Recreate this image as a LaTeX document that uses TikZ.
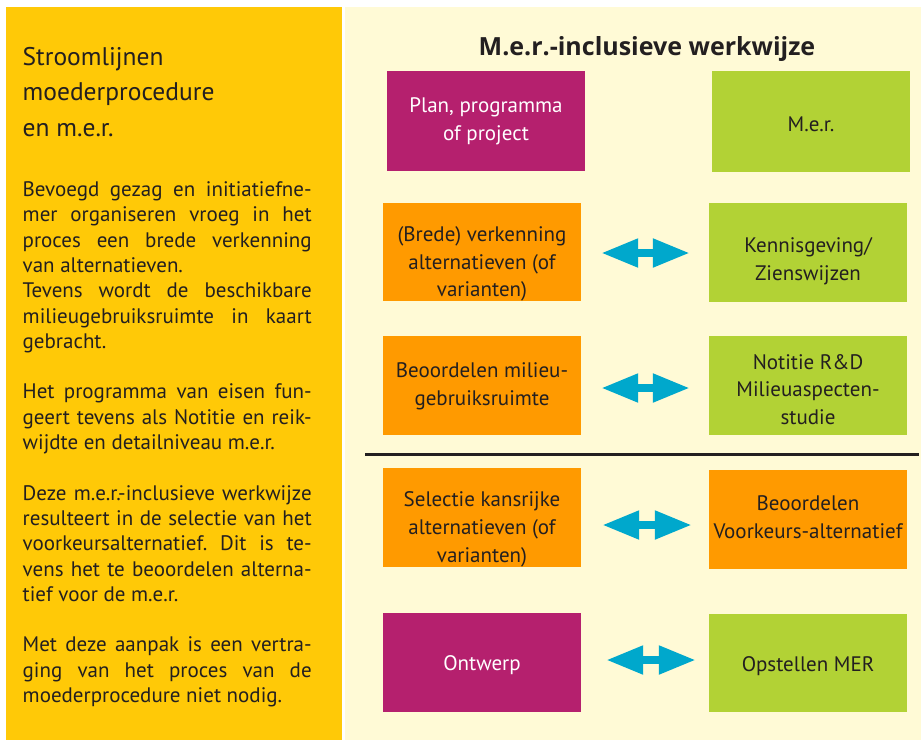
\documentclass[tikz,border=0pt]{standalone}
\usepackage{fontspec}
\setmainfont{PT Sans}
\newfontfamily\titlefont{Open Sans}
\usetikzlibrary{arrows.meta}
\definecolor{panelyellow}{HTML}{FFC907}
\definecolor{panelcream}{HTML}{FFFAD6}
\definecolor{boxmagenta}{HTML}{B5206E}
\definecolor{boxgreen}{HTML}{B2D235}
\definecolor{boxorange}{HTML}{FF9A00}
\definecolor{arrowcyan}{HTML}{00A8CC}
\definecolor{textdark}{HTML}{231F20}
\newcommand\jline[1]{\hbox to 289pt{#1}}
\newcommand\lline[1]{\hbox{#1}}
\frenchspacing
\begin{document}
\begin{tikzpicture}[x=1pt,y=-1pt,
  box/.style={rectangle, inner sep=0pt, minimum width=198pt},
  magbox/.style={box, fill=boxmagenta},
  grnbox/.style={box, fill=boxgreen},
  orgbox/.style={box, fill=boxorange},
  boxtext/.style={inner sep=0pt, align=center, text=textdark,
    font=\fontsize{21}{27.7}\selectfont},
  whitetext/.style={boxtext, text=white},
  dblarrow/.style={draw=arrowcyan, line width=8pt,
    {Triangle[length=37pt,width=27pt]}-{Triangle[length=37pt,width=27pt]}}
]
\useasboundingbox (0,0) rectangle (921,740);
\fill[white] (0,0) rectangle (921,740);
\fill[panelyellow] (6,7) rectangle (342,740);
\fill[panelcream] (344.5,7) rectangle (921,740);

% left panel text
\node[anchor=base west, inner sep=0pt, text=textdark, font=\fontsize{25.5}{35.5}\selectfont] (heading) at (22.5,65)
  {\vtop{\hsize=300pt \lline{Stroomlijnen}\lline{moederprocedure}\lline{en m.e.r.}}};
\node[anchor=base west, inner sep=0pt, text=textdark, font=\fontsize{21}{25.3}\selectfont] (body) at (22.5,196.5)
  {\vtop{\hsize=289pt
  \jline{Bevoegd gezag en initiatiefne-}
  \jline{mer organiseren vroeg in het}
  \jline{proces een brede verkenning}
  \lline{van alternatieven.}
  \jline{Tevens wordt de beschikbare}
  \jline{milieugebruiksruimte in kaart}
  \lline{gebracht.}
  \vskip 25.3pt
  \jline{Het programma van eisen fun-}
  \jline{geert tevens als Notitie en reik-}
  \lline{wijdte en detailniveau m.e.r.}
  \vskip 25.3pt
  \jline{Deze m.e.r.-inclusieve werkwijze}
  \jline{resulteert in de selectie van het}
  \jline{voorkeursalternatief. Dit is te-}
  \jline{vens het te beoordelen alterna-}
  \lline{tief voor de m.e.r.}
  \vskip 25.3pt
  \jline{Met deze aanpak is een vertra-}
  \jline{ging van het proces van de}
  \lline{moederprocedure niet nodig.}
  }};

% title
\node[anchor=base, inner sep=0pt, text=textdark, font=\fontsize{25}{30}\titlefont\bfseries] (title) at (647,55.5)
  {M.e.r.-inclusieve werkwijze};

% boxes
\node[magbox, minimum height=100pt] (plan) at (486,121) {};
\node[grnbox, minimum height=101pt] (mer) at (811,121.5) {};
\node[orgbox, minimum height=98pt] (brede) at (482,252) {};
\node[grnbox, minimum height=99pt] (kennis) at (808,252.5) {};
\node[orgbox, minimum height=99pt] (milieu) at (482,385.5) {};
\node[grnbox, minimum height=99pt] (notitie) at (808,385.5) {};
\node[orgbox, minimum height=99pt] (selectie) at (482,517.5) {};
\node[orgbox, minimum height=99pt] (voorkeur) at (808,519.5) {};
\node[magbox, minimum height=99pt] (ontwerp) at (482,662.5) {};
\node[grnbox, minimum height=98pt] (opstellen) at (808,663) {};

% box texts
\node[whitetext] (plan-t) at (plan.center) {Plan, programma\\of project};
\node[boxtext] (mer-t) at ([yshift=-3pt]mer.center) {M.e.r.};
\node[boxtext] (brede-t) at ([yshift=-12pt]brede.center) {(Brede) verkenning\\alternatieven (of\\varianten)};
\node[boxtext] (kennis-t) at ([yshift=-9pt]kennis.center) {Kennisgeving/\\Zienswijzen};
\node[boxtext] (milieu-t) at ([yshift=-1pt]milieu.center) {Beoordelen milieu-\\gebruiksruimte};
\node[boxtext] (notitie-t) at ([yshift=-4pt]notitie.center) {Notitie R\&D\\Milieuaspecten-\\studie};
\node[boxtext] (selectie-t) at ([yshift=-12pt]selectie.center) {Selectie kansrijke\\alternatieven (of\\varianten)};
\node[boxtext] (voorkeur-t) at ([yshift=2pt]voorkeur.center) {Beoordelen\\Voorkeurs-alternatief};
\node[whitetext] (ontwerp-t) at ([yshift=-3pt]ontwerp.center) {Ontwerp};
\node[boxtext] (opstellen-t) at ([yshift=-3pt]opstellen.center) {Opstellen MER};

% separator
\draw[line width=2.6pt, draw=textdark] (365,454.5) -- (918.5,454.5);

% double arrows
\coordinate (a2l) at ([xshift=20pt,yshift=-1pt]brede.east);
\coordinate (a2r) at (a2l -| kennis.west);
\draw[dblarrow] (a2l) -- ([xshift=-19pt]a2r);
\coordinate (a3l) at ([xshift=20pt,yshift=-2.5pt]milieu.east);
\coordinate (a3r) at (a3l -| notitie.west);
\draw[dblarrow] (a3l) -- ([xshift=-19pt]a3r);
\coordinate (a4l) at ([xshift=21pt,yshift=-7.5pt]selectie.east);
\coordinate (a4r) at (a4l -| voorkeur.west);
\draw[dblarrow] (a4l) -- ([xshift=-17pt]a4r);
\coordinate (a5l) at ([xshift=25pt,yshift=2.5pt]ontwerp.east);
\coordinate (a5r) at (a5l -| opstellen.west);
\draw[dblarrow] (a5l) -- ([xshift=-13pt]a5r);
\end{tikzpicture}
\end{document}
